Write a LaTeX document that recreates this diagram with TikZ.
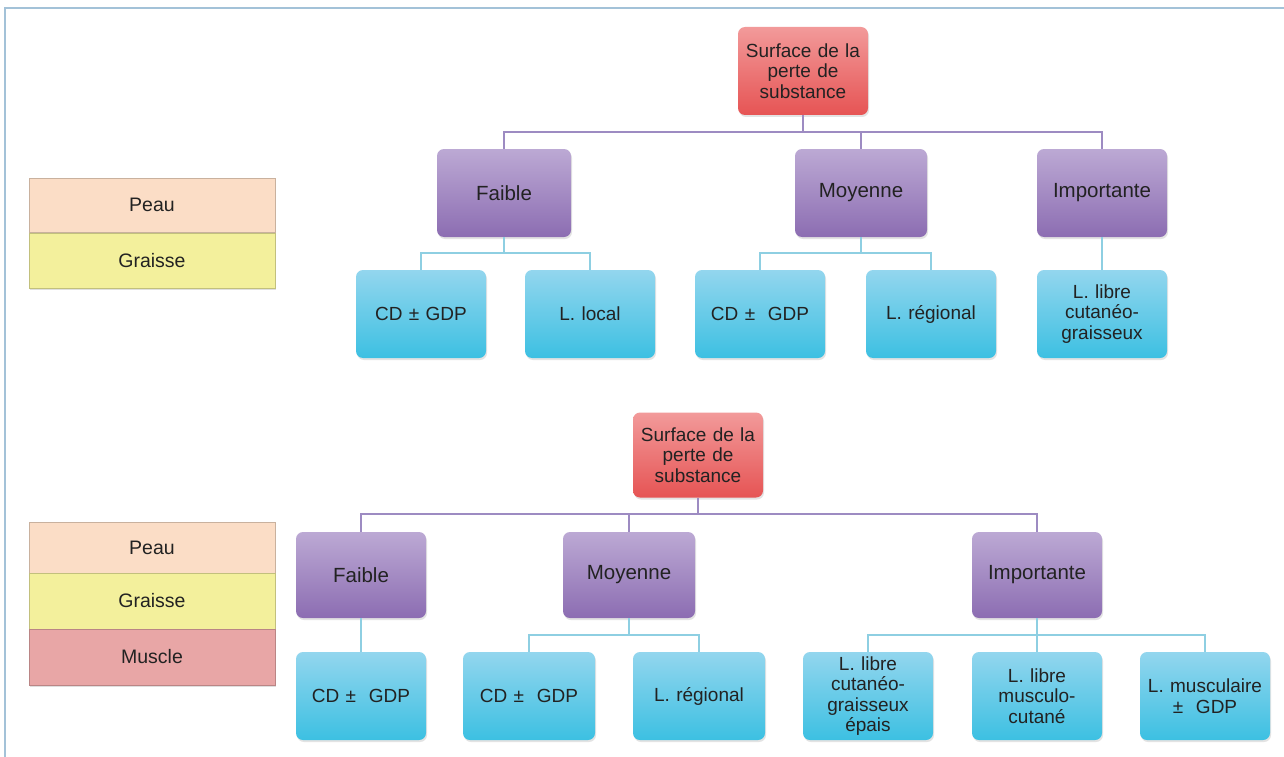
\documentclass[tikz,border=0pt]{standalone}
\usepackage{fontspec}
\setmainfont{Liberation Sans}
\usetikzlibrary{shadows}
\definecolor{frameC}{HTML}{A3C2D8}
\definecolor{redTop}{HTML}{F29A9A}
\definecolor{redBot}{HTML}{E65454}
\definecolor{purTop}{HTML}{BCA9D4}
\definecolor{purBot}{HTML}{8C6DB2}
\definecolor{cyaTop}{HTML}{93D6EE}
\definecolor{cyaBot}{HTML}{3CC0E2}
\definecolor{purLine}{HTML}{9D8BC2}
\definecolor{cyaLine}{HTML}{8ECFE2}
\definecolor{peauC}{HTML}{FBDDC6}
\definecolor{graisseC}{HTML}{F3F09C}
\definecolor{muscleC}{HTML}{E8A6A6}
\definecolor{txtC}{HTML}{222222}
\tikzset{
  box/.style={rounded corners=7pt, minimum width=130pt, minimum height=88pt,
    align=center, text width=126pt, inner sep=0pt, text=txtC,
    font=\fontsize{19}{20.5}\selectfont,
    drop shadow={opacity=0.22, shadow xshift=1pt, shadow yshift=-2pt}},
  rootbox/.style={box, top color=redTop, bottom color=redBot},
  purbox/.style={box, top color=purTop, bottom color=purBot,
    font=\fontsize{20.5}{22}\selectfont},
  cyabox/.style={box, top color=cyaTop, bottom color=cyaBot},
  legbox/.style={minimum width=246pt, inner sep=0pt, text=txtC,
    font=\fontsize{19.5}{21}\selectfont, line width=0.8pt,
    drop shadow={opacity=0.25, shadow xshift=1pt, shadow yshift=-2pt}},
  pline/.style={draw=purLine, line width=1.6pt},
  cline/.style={draw=cyaLine, line width=1.6pt},
}
\begin{document}
\begin{tikzpicture}[x=1pt,y=-1pt]
\useasboundingbox (0,0) rectangle (1284,757);
\fill[white] (0,0) rectangle (1284,757);
\draw[frameC, line width=2pt] (5,757) -- (5,8) -- (1284,8);

% ---------- top legend
\node[legbox, fill=peauC, draw=peauC!80!black, minimum height=54pt] (tpeau) at (152,205) {Peau};
\node[legbox, fill=graisseC, draw=graisseC!80!black, minimum height=55pt] (tgraisse) at (152,260.5) {Graisse};

% ---------- top tree
\node[rootbox] (troot) at (803,71) {Surface de la\\perte de\\substance};
\node[purbox, minimum width=134pt] (tf) at (504,193) {Faible};
\node[purbox, minimum width=132pt] (tm) at (861,193) {Moyenne};
\node[purbox] (ti) at (1102,193) {Importante};
\node[cyabox] (tc1) at (421,314) {CD ± GDP};
\node[cyabox] (tc2) at (590,314) {L. local};
\node[cyabox] (tc3) at (760,314) {CD ±\ \ GDP};
\node[cyabox] (tc4) at (931,314) {L. régional};
\node[cyabox] (tc5) at (1102,314) {L. libre\\cutanéo-\\graisseux};

\coordinate (tbus) at (0,132);
\coordinate (tsub) at (0,253);
\draw[pline] (troot.south) -- (troot.south |- tbus);
\draw[pline] (tf.north) |- (ti.north |- tbus) -- (ti.north);
\draw[pline] (tm.north) -- (tm.north |- tbus);
\draw[cline] (tf.south) -- (tf.south |- tsub);
\draw[cline] (tc1.north) |- (tc2.north |- tsub) -- (tc2.north);
\draw[cline] (tm.south) -- (tm.south |- tsub);
\draw[cline] (tc3.north) |- (tc4.north |- tsub) -- (tc4.north);
\draw[cline] (ti.south) -- (tc5.north);

% ---------- bottom legend
\node[legbox, fill=peauC, draw=peauC!80!black, minimum height=51pt] (bpeau) at (152,547.5) {Peau};
\node[legbox, fill=graisseC, draw=graisseC!80!black, minimum height=56pt] (bgraisse) at (152,601) {Graisse};
\node[legbox, fill=muscleC, draw=muscleC!80!black, minimum height=56pt] (bmuscle) at (152,657) {Muscle};

% ---------- bottom tree
\node[rootbox, minimum height=85pt] (broot) at (698,455) {Surface de la\\perte de\\substance};
\node[purbox, minimum height=86pt] (bf) at (361,575) {Faible};
\node[purbox, minimum height=86pt, minimum width=132pt] (bm) at (629,575) {Moyenne};
\node[purbox, minimum height=86pt] (bi) at (1037,575) {Importante};
\node[cyabox] (bc1) at (361,696) {CD ±\ \ GDP};
\node[cyabox, minimum width=132pt] (bc2) at (529,696) {CD ±\ \ GDP};
\node[cyabox, minimum width=132pt] (bc3) at (699,696) {L. régional};
\node[cyabox] (bc4) at (868,696) {L. libre\\cutanéo-\\graisseux\\épais};
\node[cyabox] (bc5) at (1037,696) {L. libre\\musculo-\\cutané};
\node[cyabox] (bc6) at (1205,696) {L. musculaire\\±\ \ GDP};

\coordinate (bbus) at (0,514);
\coordinate (bsub) at (0,635);
\draw[pline] (broot.south) -- (broot.south |- bbus);
\draw[pline] (bf.north) |- (bi.north |- bbus) -- (bi.north);
\draw[pline] (bm.north) -- (bm.north |- bbus);
\draw[cline] (bf.south) -- (bc1.north);
\draw[cline] (bm.south) -- (bm.south |- bsub);
\draw[cline] (bc2.north) |- (bc3.north |- bsub) -- (bc3.north);
\draw[cline] (bi.south) -- (bc5.north);
\draw[cline] (bc4.north) |- (bc6.north |- bsub) -- (bc6.north);
\end{tikzpicture}
\end{document}
